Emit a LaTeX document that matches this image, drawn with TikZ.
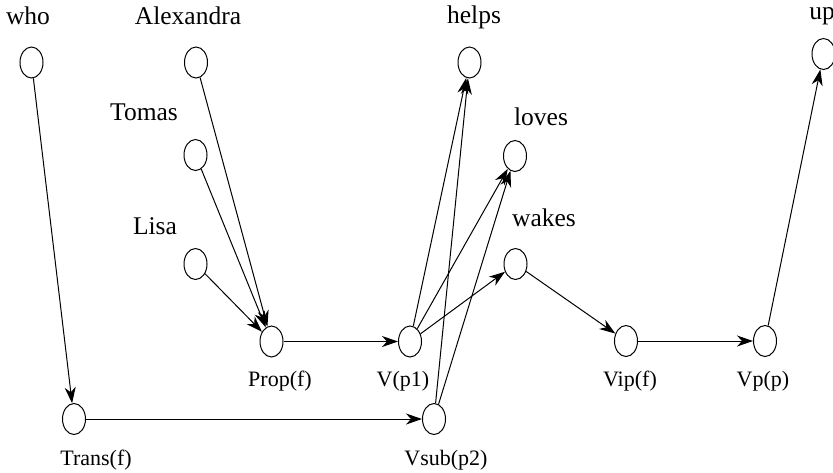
\documentclass[tikz,border=0pt]{standalone}
\usepackage{fontspec}
\setmainfont{Liberation Serif}
\usetikzlibrary{
    arrows.meta,      % For modern arrow tips
    shapes.geometric  % For the ellipse nodes
}

\begin{document}
\begin{tikzpicture}[
    % Global style settings: one unit is one pixel of the picture
    x=0.5pt, y=-0.5pt,
    state_style/.style={ % Small empty ellipse for every state
        draw, ellipse,
        minimum width=11.5pt, minimum height=15.5pt,
        inner sep=0pt, line width=0.5pt
    },
    word_style/.style={ % Words above the states
        font=\fontsize{12.75}{14}\selectfont,
        inner sep=0pt
    },
    tag_style/.style={ % Category tags below the states
        font=\fontsize{11}{13}\selectfont,
        inner sep=0pt
    },
    arrow_tip/.style={
        line width=0.5pt,
        -{Stealth[length=8pt, width=5.5pt, inset=2.5pt]}
    }
]
    \useasboundingbox (0,0) rectangle (833,472);

    % 1. The states of the words.
    \node[state_style] (who) at (31.5,62.5) {};
    \node[state_style] (alexandra) at (196,62.5) {};
    \node[state_style] (tomas) at (195.5,155) {};
    \node[state_style] (lisa) at (195.5,264) {};
    \node[state_style] (helps) at (469.5,62.5) {};
    \node[state_style] (loves) at (515,156) {};
    \node[state_style] (wakes) at (515.5,264) {};
    \node[state_style] (up) at (823.5,54) {};

    % 2. The states of the categories.
    \node[state_style] (trans) at (74,419) {};
    \node[state_style] (prop) at (271.5,341.5) {};
    \node[state_style] (vp1) at (410,341.5) {};
    \node[state_style] (vsub) at (434,419) {};
    \node[state_style] (vip) at (626,341) {};
    \node[state_style] (vp) at (765,341) {};

    % 3. The words and the tags.
    \node[word_style] (who_text) at (28,16) {who};
    \node[word_style] (alexandra_text) at (188,16) {Alexandra};
    \node[word_style] (tomas_text) at (144,112) {Tomas};
    \node[word_style] (lisa_text) at (155,226) {Lisa};
    \node[word_style] (helps_text) at (474,17) {helps};
    \node[word_style] (loves_text) at (541,117) {loves};
    \node[word_style] (wakes_text) at (544,218) {wakes};
    \node[word_style] (up_text) at (822,16) {up};

    \node[tag_style] (trans_text) at (96,460) {Trans(f)};
    \node[tag_style] (prop_text) at (280,381) {Prop(f)};
    \node[tag_style] (vp1_text) at (403,381) {V(p1)};
    \node[tag_style] (vsub_text) at (446,460) {Vsub(p2)};
    \node[tag_style] (vip_text) at (630,381) {Vip(f)};
    \node[tag_style] (vp_text) at (763,381) {Vp(p)};

    % 4. The transitions.
    \draw[arrow_tip] (who) -- (trans);
    \draw[arrow_tip] (alexandra) -- (prop);
    \draw[arrow_tip] (tomas) -- (prop);
    \draw[arrow_tip] (lisa) -- (prop);
    \draw[arrow_tip] (prop) -- (vp1);
    \draw[arrow_tip] (vp1) -- (helps);
    \draw[arrow_tip] (vp1) -- (loves);
    \draw[arrow_tip] (vp1) -- (wakes);
    \draw[arrow_tip] (trans) -- (vsub);
    \draw[arrow_tip] (vsub) -- (helps);
    \draw[arrow_tip] (vsub) -- (loves);
    \draw[arrow_tip] (wakes) -- (vip);
    \draw[arrow_tip] (vip) -- (vp);
    \draw[arrow_tip] (vp) -- (up);

\end{tikzpicture}
\end{document}
